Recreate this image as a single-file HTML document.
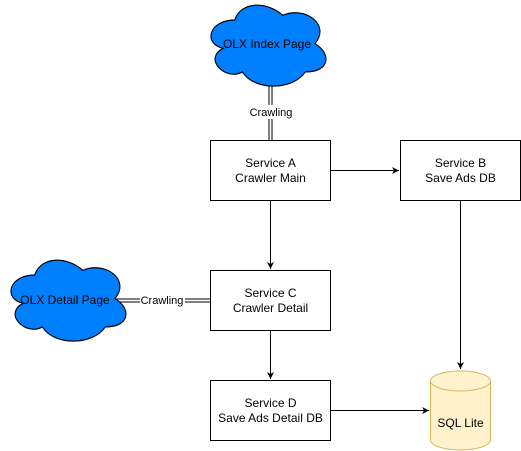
<!DOCTYPE html>
<html><head><meta charset="utf-8"><style>html,body{margin:0;padding:0;background:#fff;}svg{display:block;}</style></head>
<body>
<svg width="521" height="451" viewBox="0 0 521 451" xmlns="http://www.w3.org/2000/svg" font-family="Liberation Sans, Arial, sans-serif">
<defs>
<marker id="ar" markerWidth="8" markerHeight="8" refX="7" refY="4" orient="auto" markerUnits="userSpaceOnUse"><path d="M0,0.5 L7,4 L0,7.5 L2,4 Z" fill="#000"/></marker>
<path id="cl" d="M30 20 C6 20 0 40 19.2 44 C0 52.8 21.6 72 37.2 64 C48 80 84 80 96 64 C120 64 120 48 105 40 C120 24 96 8 75 16 C60 4 36 4 30 20 Z"/>
</defs>
<line x1="270.5" y1="84" x2="270.5" y2="140" stroke="#000" stroke-width="4"/>
<line x1="270.5" y1="84" x2="270.5" y2="140" stroke="#fff" stroke-width="2"/>
<rect x="248" y="105" width="46" height="14" fill="#fff"/>
<text x="271" y="116" font-size="11" text-anchor="middle">Crawling</text>
<line x1="116" y1="300.5" x2="210" y2="300.5" stroke="#000" stroke-width="4"/>
<line x1="116" y1="300.5" x2="210" y2="300.5" stroke="#fff" stroke-width="2"/>
<rect x="140" y="293" width="45" height="14" fill="#fff"/>
<text x="162" y="304" font-size="11" text-anchor="middle">Crawling</text>
<g transform="translate(202.6,-3.6) scale(1.07,1.18)">
<use href="#cl" fill="#007FFF" stroke="#000" stroke-width="1" vector-effect="non-scaling-stroke"/>
</g>
<text x="267" y="48" font-size="12" text-anchor="middle">OLX Index Page</text>
<g transform="translate(2.6,251.4) scale(1.07,1.18)">
<use href="#cl" fill="#007FFF" stroke="#000" stroke-width="1" vector-effect="non-scaling-stroke"/>
</g>
<text x="65" y="304" font-size="12" text-anchor="middle">OLX Detail Page</text>
<g fill="#fff" stroke="#000" stroke-width="1">
<rect x="210.5" y="140.5" width="120" height="60"/>
<rect x="400.5" y="140.5" width="120" height="60"/>
<rect x="210.5" y="270.5" width="120" height="60"/>
<rect x="210.5" y="380.5" width="120" height="60"/>
</g>
<g font-size="12" text-anchor="middle">
<text x="270.5" y="167">Service A</text><text x="270.5" y="182">Crawler Main</text>
<text x="460.5" y="167">Service B</text><text x="460.5" y="182">Save Ads DB</text>
<text x="270.5" y="297">Service C</text><text x="270.5" y="312">Crawler Detail</text>
<text x="270.5" y="407">Service D</text><text x="270.5" y="422">Save Ads Detail DB</text>
</g>
<path d="M430.5 381 A30 10 0 0 1 490.5 381 L490.5 440 A30 10 0 0 1 430.5 440 Z" fill="#FFF2CC" stroke="#D6B656"/>
<path d="M430.5 381 A30 10 0 0 0 490.5 381" fill="none" stroke="#D6B656"/>
<text x="460.5" y="427" font-size="12" text-anchor="middle">SQL Lite</text>
<g stroke="#000" stroke-width="1" fill="none" marker-end="url(#ar)">
<line x1="330.5" y1="170.5" x2="399" y2="170.5"/>
<line x1="270.5" y1="200.5" x2="270.5" y2="269"/>
<line x1="270.5" y1="330.5" x2="270.5" y2="379"/>
<line x1="460.5" y1="200.5" x2="460.5" y2="369"/>
<line x1="330.5" y1="410.5" x2="429" y2="410.5"/>
</g>
</svg>
</body></html>
